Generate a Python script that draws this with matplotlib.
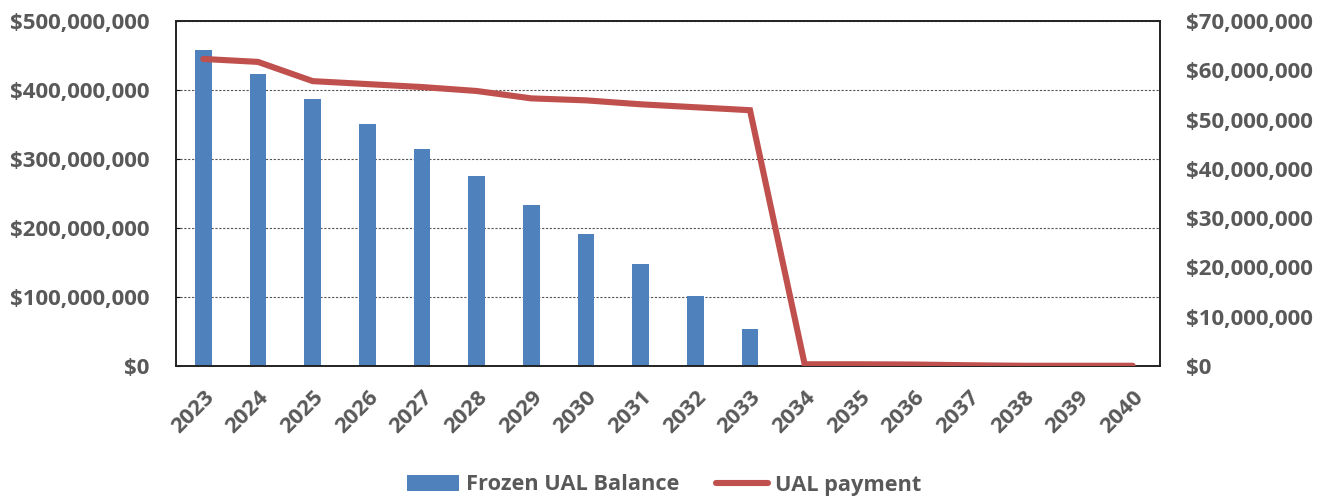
import matplotlib
matplotlib.use("Agg")
import matplotlib.pyplot as plt
from matplotlib.ticker import FuncFormatter, MultipleLocator
from matplotlib.patches import Patch
from matplotlib.lines import Line2D

years = [str(y) for y in range(2023, 2041)]
frozen_balance = [458e6, 423e6, 387e6, 350e6, 314e6, 275e6, 234e6, 192e6, 148e6, 102e6, 53e6,
                  0, 0, 0, 0, 0, 0, 0]
ual_payment = [62.3e6, 61.7e6, 57.8e6, 57.2e6, 56.6e6, 55.8e6, 54.3e6, 53.9e6, 53.1e6, 52.5e6, 51.9e6,
               0.35e6, 0.35e6, 0.3e6, 0.15e6, 0.05e6, 0.05e6, 0.05e6]

plt.rcParams['font.family'] = ['Open Sans', 'DejaVu Sans']
txt = '#595959'
fs = 16

fig = plt.figure(figsize=(13.28, 4.97), dpi=100)
ax = fig.add_axes([176/1328, 1-366/497, (1160-176)/1328, (366-21)/497])
x = list(range(len(years)))
ax.bar(x, frozen_balance, width=0.31, color='#4F81BD', zorder=2)
ax.set_xlim(-0.5, len(years)-0.5)
ax.set_ylim(0, 500e6)
ax.yaxis.set_major_locator(MultipleLocator(100e6))
ax.yaxis.set_major_formatter(FuncFormatter(lambda v, p: f"${v:,.0f}"))
ax.grid(axis='y', color='#555555', linestyle=(0, (2, 1.5)), linewidth=0.8, zorder=0)
ax.set_xticks(x)
ax.set_xticklabels(years, rotation=45, ha='right', rotation_mode='anchor')
ax.tick_params(axis='x', length=0, pad=15, labelsize=fs, labelcolor=txt)
ax.tick_params(axis='y', direction='in', length=3, labelsize=fs, labelcolor=txt, pad=19)
for lab in ax.get_xticklabels() + ax.get_yticklabels():
    lab.set_fontweight('bold')
for s in ax.spines.values():
    s.set_color('#222222')
    s.set_linewidth(1.2)

ax2 = ax.twinx()
ax2.plot(x, ual_payment, color='#C0504D', linewidth=4.4, solid_capstyle='round', solid_joinstyle='miter', zorder=3)
ax2.set_ylim(0, 70e6)
ax2.yaxis.set_major_locator(MultipleLocator(10e6))
ax2.yaxis.set_major_formatter(FuncFormatter(lambda v, p: f"${v:,.0f}" if v > 0 else "$0"))
ax2.tick_params(axis='y', direction='in', length=0, labelsize=fs, labelcolor=txt, pad=19)
for lab in ax2.get_yticklabels():
    lab.set_fontweight('bold')
for s in ax2.spines.values():
    s.set_color('#222222')
    s.set_linewidth(1.2)

handles = [Patch(facecolor='#4F81BD', label='Frozen UAL Balance'),
           Line2D([0], [0], color='#C0504D', linewidth=4.4, solid_capstyle='round', label='UAL payment')]
leg = fig.legend(handles=handles, loc='center', bbox_to_anchor=(0.5, 1-485/497), ncol=2, frameon=False,
                 prop={'size': 15.7, 'weight': 'bold'}, handlelength=2.4, handleheight=0.8,
                 handletextpad=0.3, columnspacing=1.7)
for t in leg.get_texts():
    t.set_color(txt)

fig.savefig('out.png', dpi=100)
